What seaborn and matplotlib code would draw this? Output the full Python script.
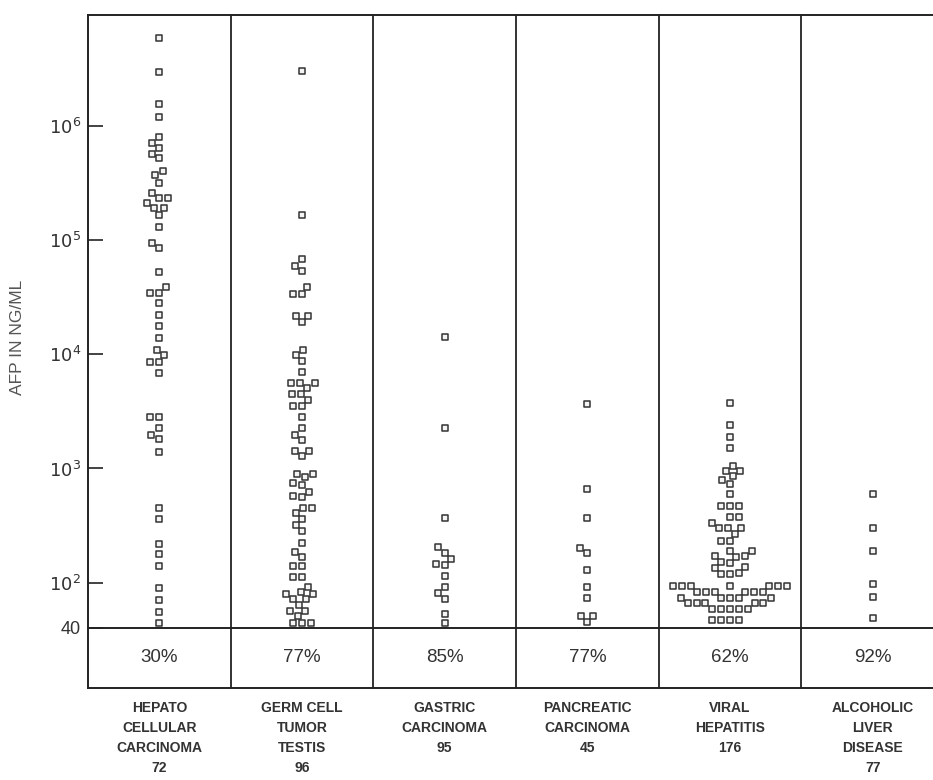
import numpy as np
import pandas as pd
import seaborn as sns
import matplotlib.pyplot as plt

# 1. Data (AFP in ng/ml, one value per positive patient)
maladies = ["HEPATO\nCELLULAR\nCARCINOMA", "GERM CELL\nTUMOR\nTESTIS", "GASTRIC\nCARCINOMA",
            "PANCREATIC\nCARCINOMA", "VIRAL\nHEPATITIS", "ALCOHOLIC\nLIVER\nDISEASE"]
effectifs = [72, 96, 95, 45, 176, 77]
pourcentages = ["30%", "77%", "85%", "77%", "62%", "92%"]

hcc = [5.9e6, 3.0e6, 1.55e6, 1.2e6, 8.0e5, 7.1e5, 6.4e5, 5.7e5, 5.2e5, 4.0e5, 3.7e5, 3.2e5,
       2.6e5, 2.35e5, 2.35e5, 2.1e5, 1.9e5, 1.9e5, 1.65e5, 1.3e5, 9.5e4, 8.6e4, 5.3e4, 3.9e4,
       3.45e4, 3.45e4, 2.8e4, 2.2e4, 1.77e4, 1.39e4, 1.09e4, 9.9e3, 8.6e3, 8.6e3, 6.9e3,
       2.8e3, 2.8e3, 2.26e3, 1.96e3, 1.81e3, 1.4e3, 450, 360, 220, 178, 140, 90, 70, 55, 44]
germ = [3.05e6, 1.67e5, 6.9e4, 5.95e4, 5.4e4, 3.9e4, 3.4e4, 3.4e4, 2.17e4, 2.17e4, 1.92e4,
        1.09e4, 9.9e3, 8.75e3, 7.0e3, 5.6e3, 5.6e3, 5.6e3, 5.1e3, 4.5e3, 4.5e3, 4.0e3, 3.5e3,
        3.5e3, 2.83e3, 2.26e3, 1.96e3, 1.78e3, 1.42e3, 1.42e3, 1.29e3, 895, 895, 842, 746, 717,
        622, 574, 562, 451, 451, 407, 361, 320, 283, 222, 185, 168, 140, 140, 112, 112, 91, 83,
        79, 79, 72, 72, 64, 56, 56, 51, 44, 44, 44]
gastric = [1.42e4, 2.26e3, 368, 205, 182, 161, 146, 143, 114, 91, 81, 72, 53, 44]
pancreatic = [3.67e3, 661, 368, 201, 182, 129, 91, 73, 51, 51, 45]
viral = [3.75e3, 2.4e3, 1.89e3, 1.51e3, 1.05e3, 951, 951, 859, 793, 731, 598, 469, 469, 469,
         376, 376, 333, 301, 301, 301, 267, 231, 231, 189, 189, 171, 171, 168, 151, 148, 137,
         134, 121, 119, 119,
         93, 93, 93, 93, 93, 93, 93, 83, 83, 83, 83, 83, 83, 73, 73, 73, 73, 73,
         66, 66, 66, 66, 66, 59, 59, 59, 59, 59, 47, 47, 47, 47]
alcoholic = [598, 301, 189, 97, 75, 49]

series = [hcc, germ, gastric, pancreatic, viral, alcoholic]
df = pd.DataFrame({
    "maladie": np.repeat(maladies, [len(s) for s in series]),
    "afp": np.concatenate(series),
})

# 2. Style
sns.set_theme(style="white")
plt.rcParams["font.family"] = ["Liberation Sans", "DejaVu Sans"]
encre = "#222222"

fig = plt.figure(figsize=(9.33, 7.8), dpi=100)
ax_band = fig.add_axes([88 / 933, 1 - 688 / 780, 856 / 933, 60 / 780])
ax = fig.add_axes([88 / 933, 1 - 628 / 780, 856 / 933, 613 / 780])
ax_band.patch.set_alpha(0)

# 3. Swarm of open squares on a log scale
sns.swarmplot(data=df, x="maladie", y="afp", order=maladies, log_scale=True,
              marker="s", size=5, color="#f4f4f4", edgecolor="#333333", linewidth=1.1,
              ax=ax)

ax.set_xlim(-0.5, 5.5)
ax.set_ylim(40, 9.4e6)
ax.set_xlabel("")
ax.set_ylabel("")
ax.set_xticks([])
ax.set_yticks([40, 1e2, 1e3, 1e4, 1e5, 1e6])
ax.set_yticklabels(["40", "$10^{2}$", "$10^{3}$", "$10^{4}$", "$10^{5}$", "$10^{6}$"])
ax.yaxis.set_minor_locator(plt.NullLocator())
ax.tick_params(axis="y", direction="in", length=11, width=1.2, color=encre,
               labelsize=13, labelcolor="#333333", pad=5, left=True)
for cote in ["left", "top", "bottom"]:
    ax.spines[cote].set_color(encre)
    ax.spines[cote].set_linewidth(1.4)
ax.spines["right"].set_visible(False)

# 4. Column separators and percentage band
for a in [ax, ax_band]:
    for sep in np.arange(0.5, 5.0, 1.0):
        a.axvline(sep, color=encre, linewidth=1.3)

ax_band.set_xlim(-0.5, 5.5)
ax_band.set_ylim(0, 1)
ax_band.set_yticks([])
for i, p in enumerate(pourcentages):
    ax_band.text(i, 0.5, p, ha="center", va="center", fontsize=13.5, color="#333333")
ax_band.set_xticks(range(len(maladies)))
ax_band.set_xticklabels([f"{m}\n{n}" for m, n in zip(maladies, effectifs)],
                        family=["Liberation Sans Narrow", "Liberation Sans", "DejaVu Sans"],
                        fontsize=10, fontweight="bold", color="#333333", linespacing=1.55,
                        va="top")
ax_band.tick_params(axis="x", length=0, pad=9)
for cote in ["left", "bottom"]:
    ax_band.spines[cote].set_color(encre)
    ax_band.spines[cote].set_linewidth(1.4)
ax_band.spines["top"].set_visible(False)
ax_band.spines["right"].set_visible(False)

# 5. Axis title
fig.text(18 / 933, 1 - 337 / 780, "AFP IN NG/ML", rotation=90, ha="center", va="center",
         fontsize=12.5, color="#555555")

plt.savefig("out.png", dpi=100)
